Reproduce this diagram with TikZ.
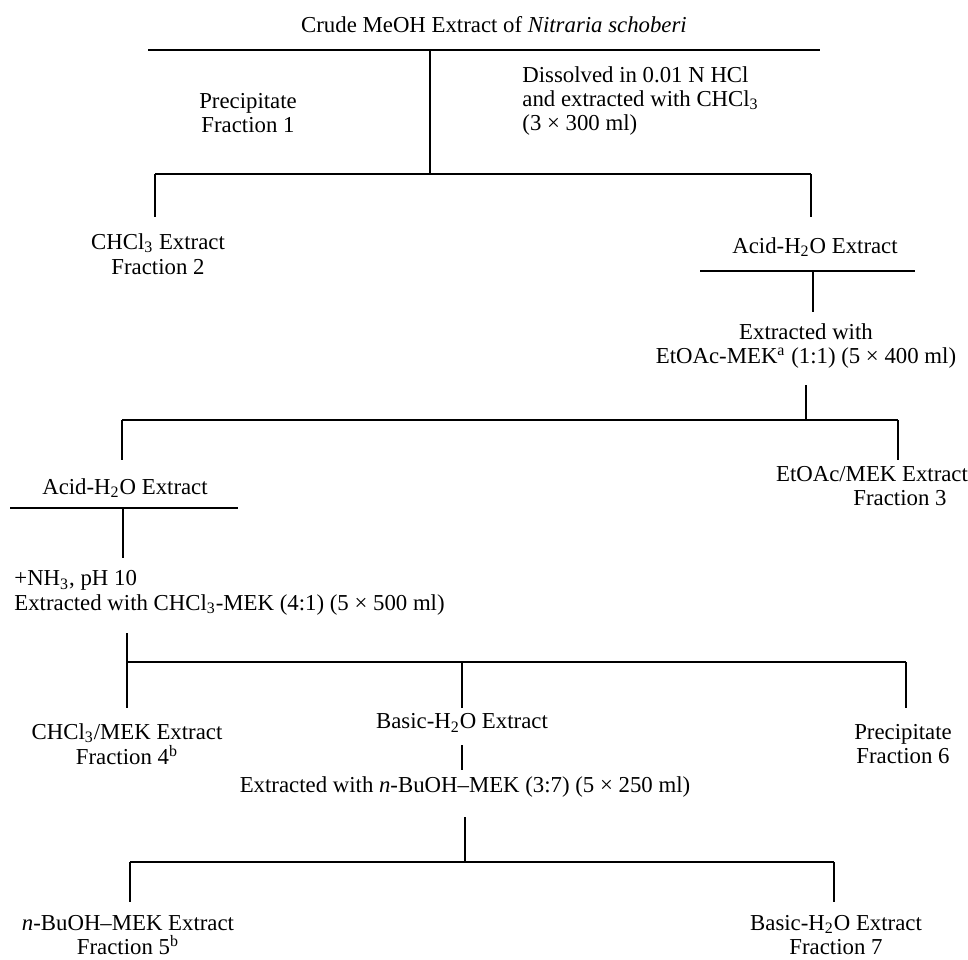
\documentclass[tikz,border=0pt]{standalone}
\usepackage{fontspec}
\setmainfont{Liberation Serif}
\usepackage{tikz}
\usetikzlibrary{calc}

\begin{document}
\begin{tikzpicture}[
        x=0.5pt, y=-0.5pt,
        lbl/.style={inner sep=0pt, align=center, font=\fontsize{11.4}{12.2}\selectfont},
        lbll/.style={lbl, align=left, anchor=west},
        bar/.style={line width=1.3pt},
        stem/.style={line width=0.8pt},
        ]
    \useasboundingbox (0,0) rectangle (968,959);

    % first split
	\node (crude) at (494, 25) [lbl] {Crude MeOH Extract of \textit{Nitraria schoberi}};
    \coordinate (b1l) at (148, 50);
    \coordinate (b1r) at (820, 50);
    \coordinate (b1m) at (430, 50);
    \draw [bar] (b1l) -- (b1r);

	\node (frac1) at (248, 113) [lbl] {Precipitate\\Fraction 1};
	\node (diss) at (522, 101) [lbll] {Dissolved in 0.01 N HCl\\and extracted with CHCl\textsubscript{3}\\(3 × 300 ml)};

    \coordinate (b2l) at (155, 174);
    \coordinate (b2r) at (811, 174);
    \coordinate (b2m) at (430, 174);
    \draw [stem] (b1m) -- (b2m);
    \draw [bar] (b2l) -- (b2r);
    \draw [stem] (b2l) -- ++(0, 43);
    \draw [stem] (b2r) -- ++(0, 43);

	\node (frac2) at (158, 254) [lbl] {CHCl\textsubscript{3} Extract\\Fraction 2};
	\node (acid1) at (815, 247) [lbl] {Acid-H\textsubscript{2}O Extract};

    % acid water, first extraction
    \coordinate (b3l) at (700, 271);
    \coordinate (b3r) at (915, 271);
    \coordinate (b3m) at (813, 271);
    \draw [bar] (b3l) -- (b3r);
    \draw [stem] (b3m) -- ++(0, 41);

	\node (extr1) at (806, 346) [lbl] {Extracted with\\EtOAc-MEK\textsuperscript{a} (1:1) (5 × 400 ml)};

    \coordinate (b4l) at (122, 420);
    \coordinate (b4r) at (898, 420);
    \coordinate (b4m) at (806, 420);
    \draw [stem] (b4m) -- ++(0, -35);
    \draw [bar] (b4l) -- (b4r);
    \draw [stem] (b4l) -- ++(0, 40);
    \draw [stem] (b4r) -- ++(0, 40);

	\node (acid2) at (125, 488) [lbl] {Acid-H\textsubscript{2}O Extract};
	\node (frac3) at (872, 486) [lbl] {EtOAc/MEK Extract\\\hspace*{28pt}Fraction 3};

    % basification
    \coordinate (b5l) at (10, 508);
    \coordinate (b5r) at (238, 508);
    \coordinate (b5m) at (123, 508);
    \draw [bar] (b5l) -- (b5r);
    \draw [stem] (b5m) -- ++(0, 50);

	\node (nh3) at (14, 593) [lbll] {+NH\textsubscript{3}, pH 10\\Extracted with CHCl\textsubscript{3}-MEK (4:1) (5 × 500 ml)};

    \coordinate (b6l) at (127, 662);
    \coordinate (b6r) at (906, 662);
    \coordinate (b6m) at (462, 662);
    \draw [stem] (b6l) -- ++(0, -29);
    \draw [bar] (b6l) -- (b6r);
    \draw [stem] (b6l) -- ++(0, 46);
    \draw [stem] (b6m) -- ++(0, 46);
    \draw [stem] (b6r) -- ++(0, 46);

	\node (frac4) at (127, 744) [lbl] {CHCl\textsubscript{3}/MEK Extract\\Fraction 4\textsuperscript{b}};
	\node (basic1) at (462, 723) [lbl] {Basic-H\textsubscript{2}O Extract};
	\node (frac6) at (903, 744) [lbl] {Precipitate\\Fraction 6};

	\node (extr2) at (465, 787) [lbl] {Extracted with \textit{n}-BuOH--MEK (3:7) (5 × 250 ml)};
    \coordinate (s1t) at (462, 745);
    \coordinate (s1b) at (462, 770);
    \draw [stem] (s1t) -- (s1b);

    \coordinate (b7l) at (130, 862);
    \coordinate (b7r) at (834, 862);
    \coordinate (b7m) at (465, 862);
    \draw [stem] (b7m) -- ++(0, -45);
    \draw [bar] (b7l) -- (b7r);
    \draw [stem] (b7l) -- ++(0, 40);
    \draw [stem] (b7r) -- ++(0, 40);

	\node (frac5) at (128, 935) [lbl] {\textit{n}-BuOH--MEK Extract\\Fraction 5\textsuperscript{b}};
	\node (frac7) at (836, 935) [lbl] {Basic-H\textsubscript{2}O Extract\\Fraction 7};
\end{tikzpicture}
\end{document}
